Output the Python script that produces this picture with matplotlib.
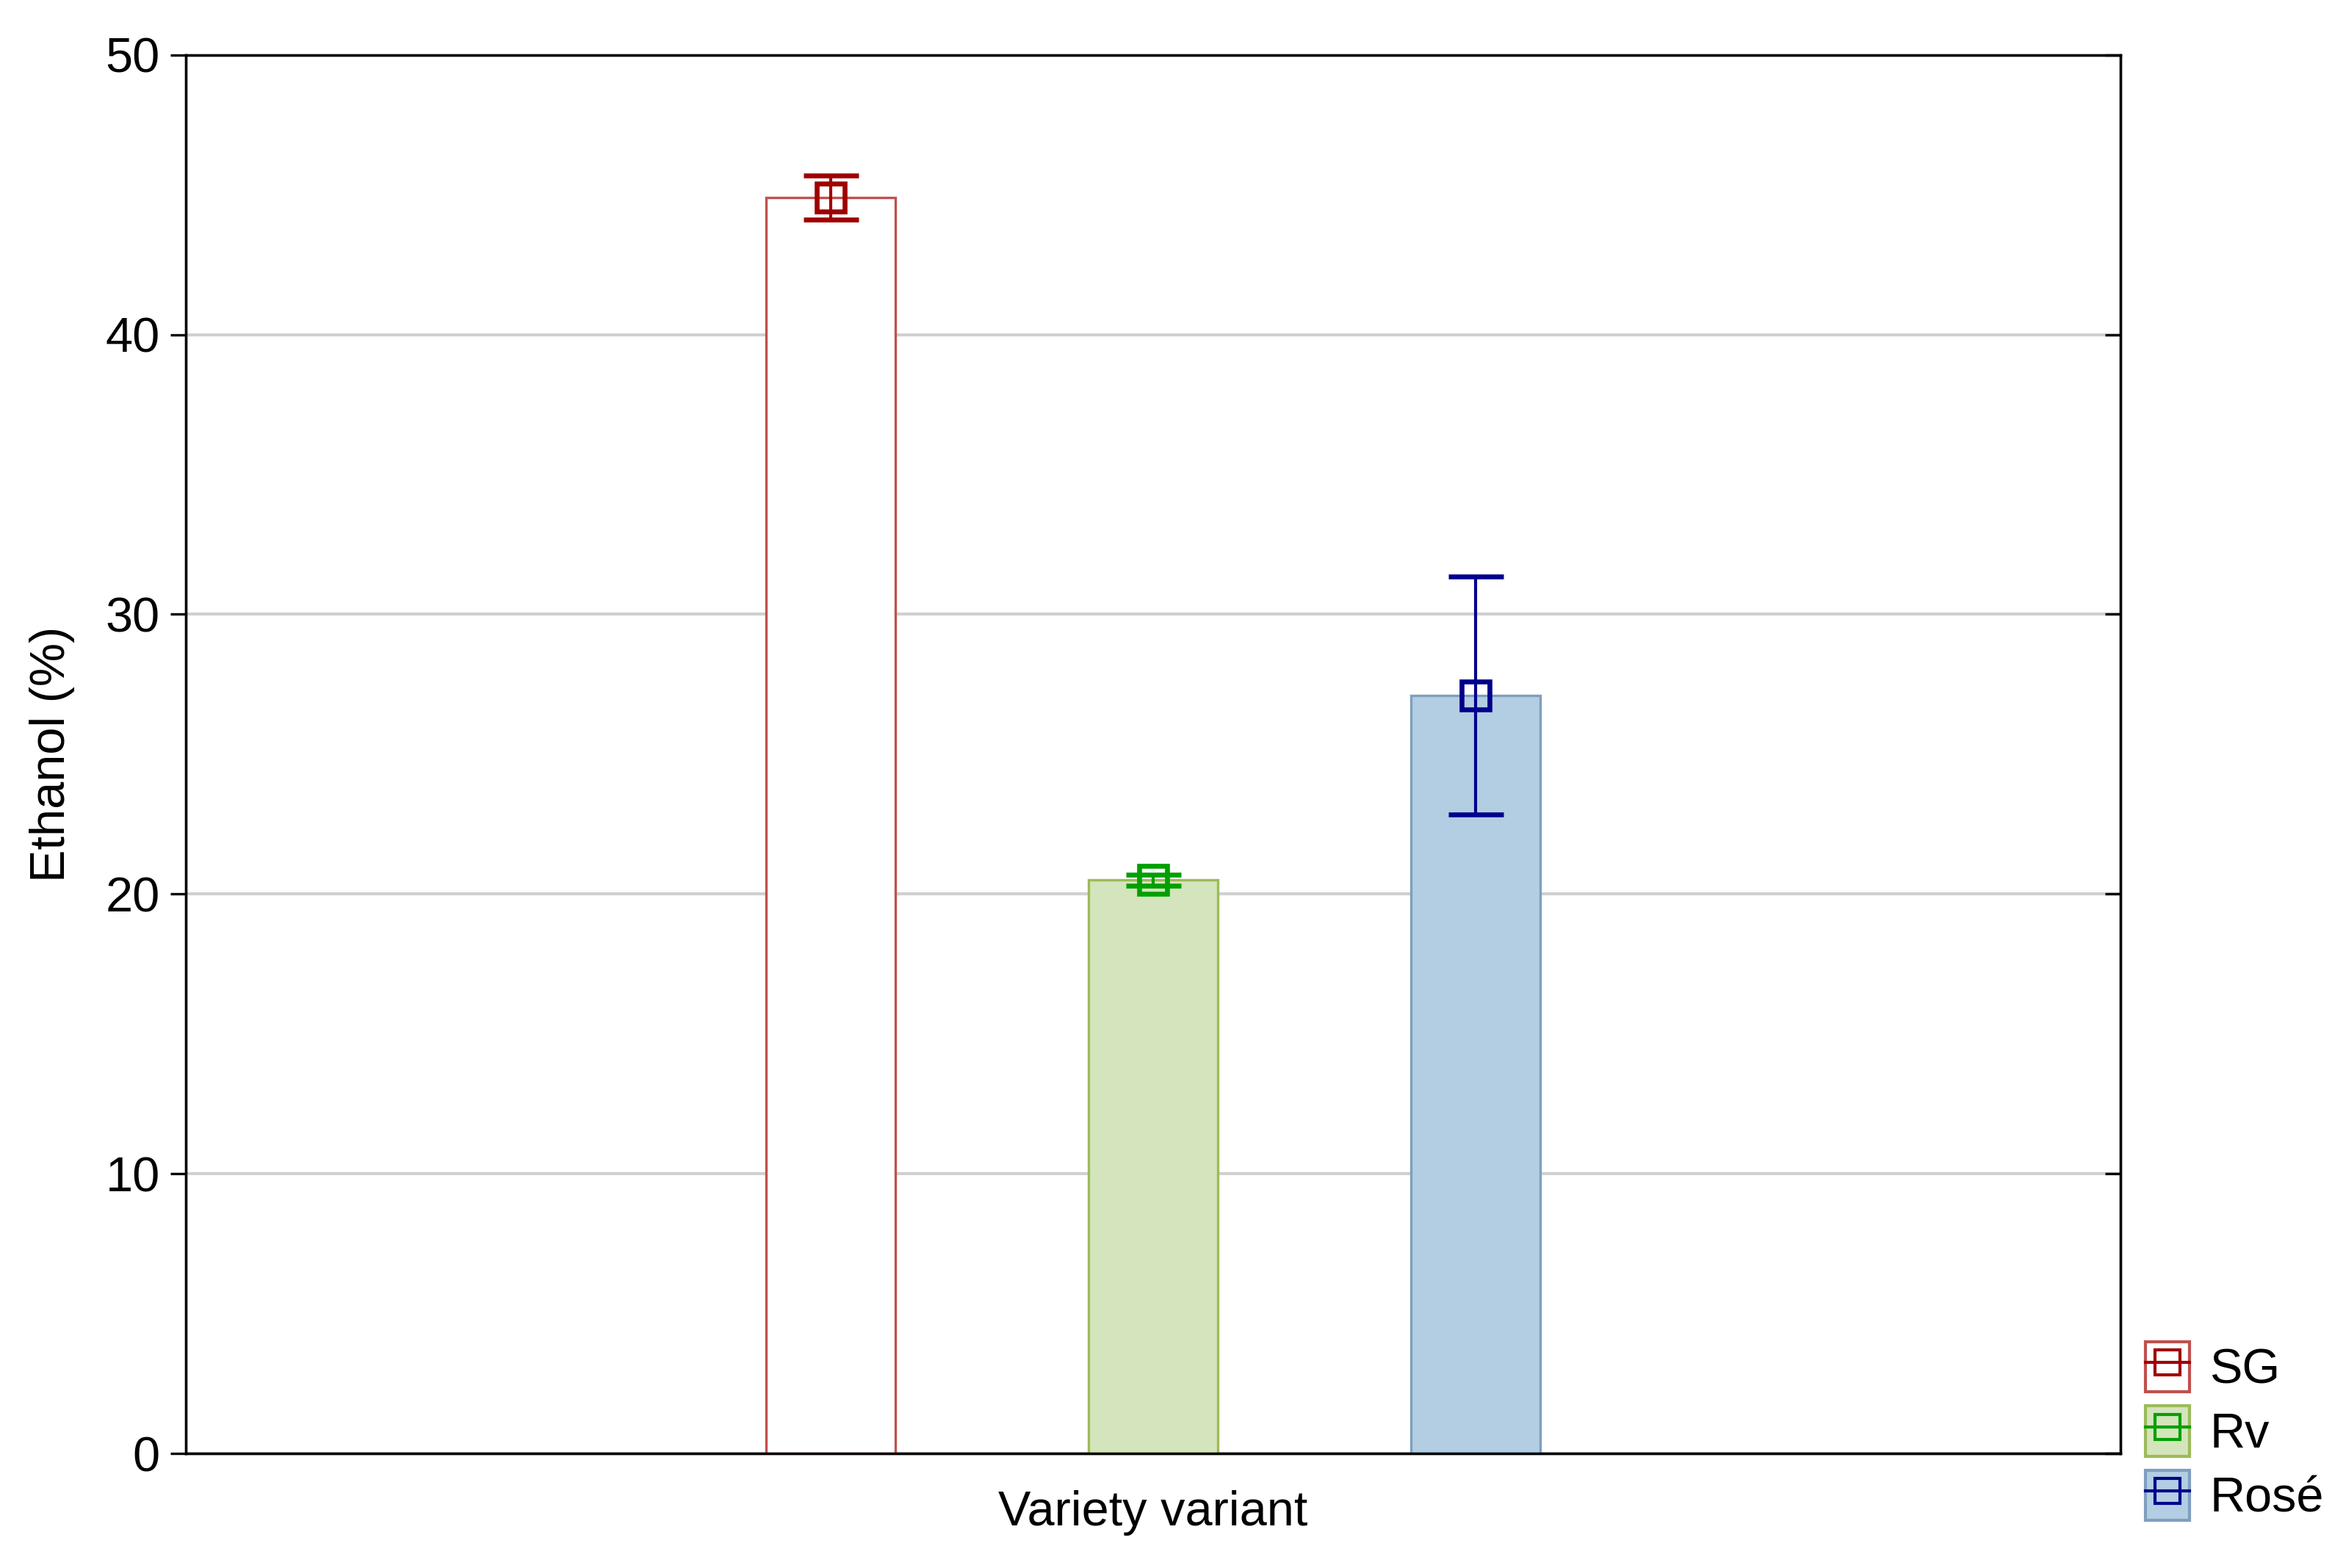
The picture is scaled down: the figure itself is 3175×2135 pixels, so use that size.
import matplotlib
matplotlib.use("Agg")
import matplotlib.pyplot as plt
from matplotlib.patches import Patch
from matplotlib.lines import Line2D

categories = ["SG", "Rv", "Rosé"]
means = [44.9, 20.5, 27.1]
errors = [0.8, 0.2, 4.25]
yticks = [0, 10, 20, 30, 40, 50]

fills = ["white", "#d4e4bc", "#b3cde3"]
edges = ["#c0504d", "#9bbb59", "#7f9fbf"]
markc = ["#a00000", "#00a000", "#00008c"]
pos = [-1, 0, 1]

plt.rcParams['font.family'] = ['Liberation Sans', 'DejaVu Sans']
fig = plt.figure(figsize=(3175/300, 2135/300), dpi=300)
ax = fig.add_axes([0.0797, 0.073, 0.8295, 0.892])
for p, m, e, f, ec, mc in zip(pos, means, errors, fills, edges, markc):
    ax.bar(p, m, width=0.40, color=f, edgecolor=ec, linewidth=0.8, zorder=2)
    ax.errorbar(p, m, yerr=e, fmt='s', mfc='none', mec=mc, ecolor=mc, color=mc,
                markersize=9, markeredgewidth=1.6, elinewidth=1.0, capsize=9, capthick=1.0, zorder=3)
ax.set_xlim(-3, 3)
ax.set_ylim(0, 50)
ax.set_yticks(yticks)
ax.set_xticks([])
ax.yaxis.grid(True, color='#d0d0d0', linewidth=1.0, zorder=0)
ax.set_axisbelow(True)
ax.tick_params(axis='y', labelsize=16, direction='out', length=5)
ax2 = ax.twinx()
ax2.set_ylim(0, 50)
ax2.set_yticks(yticks)
ax2.tick_params(axis='y', direction='in', length=5, labelright=False)
ax.set_ylabel("Ethanol (%)", fontsize=16, labelpad=10)
ax.set_xlabel("Variety variant", fontsize=16, labelpad=12)

handles = [(Patch(facecolor=f, edgecolor=ec), Line2D([], [], marker='s', color=mc, mfc='none', mec=mc, markersize=8, lw=1))
           for f, ec, mc in zip(fills, edges, markc)]
ax.legend(handles, categories, loc='lower left', bbox_to_anchor=(0.998, -0.07), frameon=False,
          fontsize=16, handlelength=0.9, handleheight=1.2, handletextpad=0.4, labelspacing=0.25, borderaxespad=0.2)
fig.savefig("out.png", dpi=300)
